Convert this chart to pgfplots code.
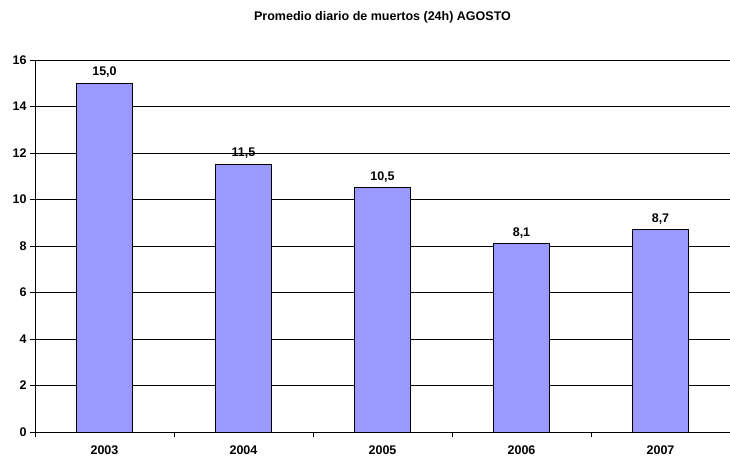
\documentclass[border=0pt]{standalone}
\usepackage{fontspec}
\setmainfont{Liberation Sans}
\usepackage{pgfplots}
\pgfplotsset{compat=1.18}
\definecolor{barblue}{HTML}{9999FF}
\begin{document}
\begin{tikzpicture}[x=1pt,y=1pt]
\path[use as bounding box] (0,0) rectangle (730,458);
\begin{axis}[
  at={(35pt,26pt)}, anchor=south west,
  scale only axis, width=695pt, height=372pt,
  xmin=-0.5, xmax=4.5, ymin=0, ymax=16,
  axis lines*=left, axis line style={-, black, line width=0.8pt},
  xtick={0,1,2,3,4},
  xticklabels={2003,2004,2005,2006,2007},
  minor xtick={-0.5,0.5,1.5,2.5,3.5,4.5},
  major x tick style={draw=none},
  minor x tick style={black, line width=0.6pt},
  ytick={0,2,...,16},
  y tick style={black, line width=0.6pt},
  tick align=outside,
  major tick length=5pt, minor tick length=5pt,
  ymajorgrids, major grid style={black, line width=0.6pt},
  /pgf/number format/assume math mode=true,
  tick label style={font=\fontsize{12.5}{14}\selectfont\bfseries},
  xticklabel style={yshift=-5pt},
  title={Promedio diario de muertos (24h) AGOSTO},
  title style={font=\fontsize{12.5}{14}\selectfont\bfseries, at={(0.5,1)}, anchor=center, yshift=37pt},
  ybar, bar width=0.4,
  nodes near coords,
  nodes near coords style={font=\fontsize{12.5}{14}\selectfont\bfseries, black, yshift=2pt, /pgf/number format/.cd, fixed, fixed zerofill, precision=1, use comma, assume math mode=true},
]
\addplot[fill=barblue, draw=black, line width=0.8pt] coordinates {(0,15.0) (1,11.5) (2,10.5) (3,8.1) (4,8.7)};
\end{axis}
\end{tikzpicture}
\end{document}
